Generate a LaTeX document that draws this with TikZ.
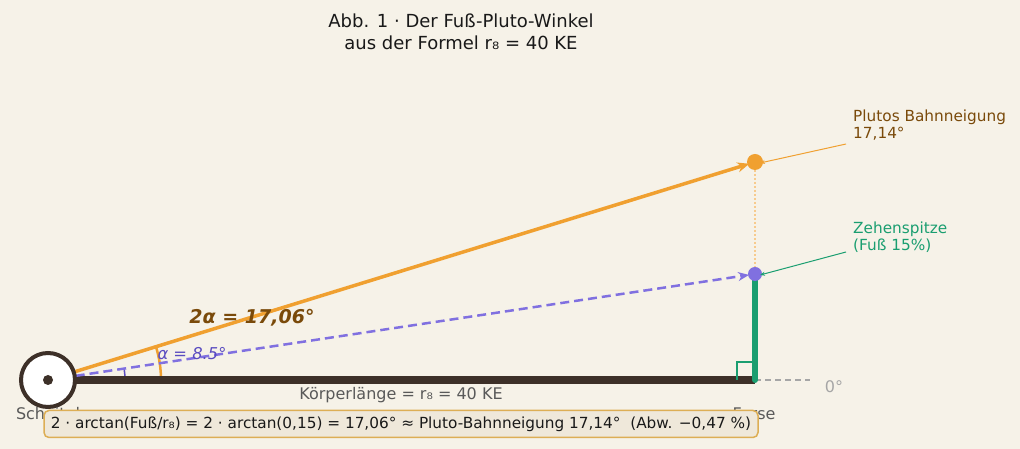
\documentclass[tikz,border=0pt]{standalone}
\usepackage{fontspec}
\setmainfont{DejaVu Sans}
\usetikzlibrary{arrows.meta,calc}
\definecolor{bg}{HTML}{F6F2E8}
\definecolor{bar}{HTML}{3D3028}
\definecolor{orng}{HTML}{F0A030}
\definecolor{purp}{HTML}{8070E0}
\definecolor{grn}{HTML}{1A9E70}
\definecolor{brn}{HTML}{7A4A0A}
\definecolor{alph}{HTML}{5A4CC0}
\definecolor{boxfill}{HTML}{EFE8DA}
\definecolor{boxline}{HTML}{DDAE55}
\begin{document}
\begin{tikzpicture}[x=1pt,y=1pt,
  lbl/.style={font=\fontsize{16}{19}\selectfont},
  annot/.style={font=\fontsize{15.3}{17}\selectfont,align=left,anchor=north west,inner sep=0pt}]
\fill[bg] (0,0) rectangle (1020,449);
\useasboundingbox (0,0) rectangle (1020,449);
% coordinates
\coordinate (O) at (48,69);
\coordinate (F) at (755,69);
\coordinate (T) at (755,175);
\coordinate (P) at (755,287);
\coordinate (G) at (810,69);
\coordinate (PA) at (846,305);
\coordinate (TA) at (846,197);
% title
\node[font=\fontsize{18}{22}\selectfont,align=center,text=black!90] (title) at (461,417) {Abb. 1 · Der Fuß-Pluto-Winkel\\aus der Formel r₈ = 40 KE};
% dotted vertical
\draw[orng!55,line width=2pt,dotted] (P) -- (T);
% gray dashed zero line
\draw[gray!70,line width=1.5pt,dash pattern=on 6pt off 4pt] (F) -- (G);
\node[lbl,text=gray!70] (zero) at (834,62) {0°};
% arcs
\draw[orng,line width=2.5pt] ($(O)+(113,0)$) arc (0:17.14:113);
\draw[alph,line width=1.5pt] ($(O)+(77,0)$) arc (0:8.53:77);
% bar
\draw[bar,line width=8.5pt] (O) -- (F);
% right angle
\draw[grn,line width=1.5pt] (737,69) -- (737,87) -- (755,87);
% foot
\draw[grn,line width=6pt,line cap=round] (F) -- (T);
% lines
\draw[orng,line width=3.5pt,-{Stealth[length=12pt,width=10pt]},shorten >=6pt] (O) -- (P);
\draw[purp,line width=2.5pt,dash pattern=on 9pt off 5pt,-{Stealth[length=11pt,width=9pt]},shorten >=6pt] (O) -- (T);
% dots
\fill[orng] (P) circle (8);
\fill[purp] (T) circle (7);
% shoulder circle
\draw[bar,line width=4pt,fill=white] (O) circle (27);
\fill[bar] (O) circle (5);
% labels
\node[font=\fontsize{19}{22}\selectfont\bfseries\itshape,text=brn] (twoalpha) at (252,131) {2α = 17,06°};
\node[font=\fontsize{16.3}{19}\selectfont\itshape,text=alph] (alpha) at (192,95) {α = 8.5°};
\node[lbl,text=black!65] (koerper) at (401,54) {Körperlänge = r₈ = 40 KE};
\node[lbl,text=black!65] (scheitel) at (48,35) {Scheitel};
\node[lbl,text=black!65] (ferse) at (754,35) {Ferse};
% annotations
\node[annot,text=brn] (pluto) at (853,339) {Plutos Bahnneigung\\17,14°};
\node[annot,text=grn] (zehe) at (853,227) {Zehenspitze\\(Fuß 15\%)};
\draw[orng,line width=1pt,-{Stealth[length=5pt,width=4pt]}] (PA) -- ($(P)+(5,-1)$);
\draw[grn,line width=1pt,-{Stealth[length=5pt,width=4pt]}] (TA) -- ($(T)+(5,-1)$);
% formula box
\node[font=\fontsize{15.3}{18}\selectfont,draw=boxline,line width=1.5pt,fill=boxfill,rounded corners=5pt,minimum width=714pt,minimum height=27pt,inner sep=2pt,text=black!90] (box) at (401,25) {2 · arctan(Fuß/r₈) = 2 · arctan(0,15) = 17,06° ≈ Pluto-Bahnneigung 17,14°\ \ (Abw. −0,47 \%)};
\end{tikzpicture}
\end{document}
